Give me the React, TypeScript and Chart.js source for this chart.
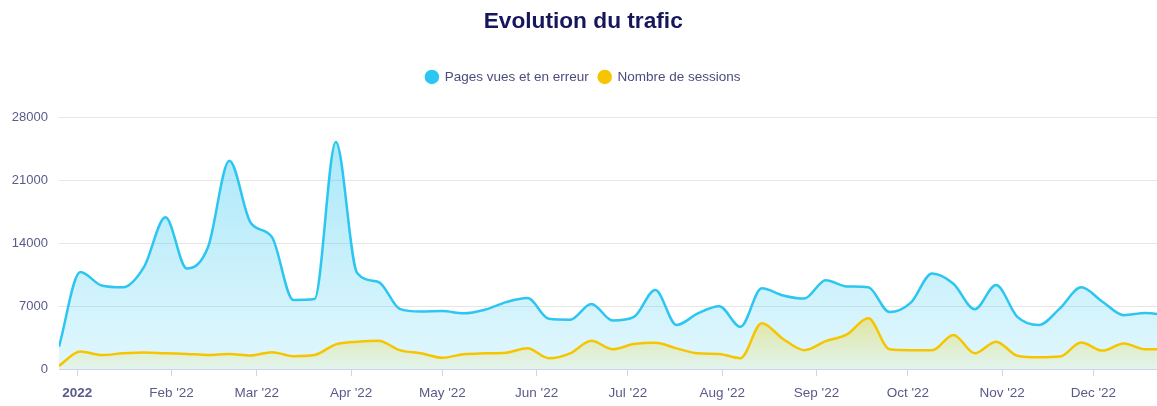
import React, { useEffect, useRef } from "react";
import { Chart, registerables } from "chart.js";

Chart.register(...registerables);

const weekStarts = [
  "2021-12-26", "2022-01-02", "2022-01-09", "2022-01-16", "2022-01-23", "2022-01-30",
  "2022-02-06", "2022-02-13", "2022-02-20", "2022-02-27", "2022-03-06", "2022-03-13",
  "2022-03-20", "2022-03-27", "2022-04-03", "2022-04-10", "2022-04-17", "2022-04-24",
  "2022-05-01", "2022-05-08", "2022-05-15", "2022-05-22", "2022-05-29", "2022-06-05",
  "2022-06-12", "2022-06-19", "2022-06-26", "2022-07-03", "2022-07-10", "2022-07-17",
  "2022-07-24", "2022-07-31", "2022-08-07", "2022-08-14", "2022-08-21", "2022-08-28",
  "2022-09-04", "2022-09-11", "2022-09-18", "2022-09-25", "2022-10-02", "2022-10-09",
  "2022-10-16", "2022-10-23", "2022-10-30", "2022-11-06", "2022-11-13", "2022-11-20",
  "2022-11-27", "2022-12-04", "2022-12-11", "2022-12-18", "2022-12-25",
];

const pagesVues = [
  2500, 10800, 9300, 9100, 11400, 16900,
  11200, 13600, 23200, 16300, 14700, 7700,
  7800, 25300, 10700, 9700, 6700, 6400,
  6450, 6200, 6600, 7450, 7900, 5600,
  5500, 7250, 5400, 5800, 8800, 4900,
  6200, 7000, 4700, 9000, 8200, 7850,
  9900, 9200, 9100, 6350, 7400, 10650,
  9500, 6650, 9350, 5800, 4900, 6750,
  9100, 7500, 6000, 6250, 6000,
];

const sessions = [
  350, 1950, 1550, 1750, 1850, 1750,
  1680, 1570, 1680, 1500, 1880, 1430,
  1560, 2750, 3050, 3150, 2100, 1750,
  1250, 1650, 1750, 1820, 2300, 1200,
  1750, 3150, 2200, 2780, 2930, 2300,
  1750, 1680, 1200, 5100, 3350, 2100,
  3100, 3850, 5650, 2200, 2100, 2100,
  3800, 1750, 3050, 1480, 1300, 1380,
  2950, 2050, 2850, 2200, 2200,
];

const monthTickDates = [
  "2022-01-01", "2022-02-01", "2022-03-01", "2022-04-01", "2022-05-01", "2022-06-01",
  "2022-07-01", "2022-08-01", "2022-09-01", "2022-10-01", "2022-11-01", "2022-12-01",
];
const monthTickLabels = [
  "2022", "Feb '22", "Mar '22", "Apr '22", "May '22", "Jun '22",
  "Jul '22", "Aug '22", "Sep '22", "Oct '22", "Nov '22", "Dec '22",
];
const yTickValues = [0, 7000, 14000, 21000, 28000];

const BLUE = "#2cc6f0";
const YELLOW = "#f7c500";
const FONT = "'Liberation Sans', Arial, Helvetica, sans-serif";
const TEXT = "#5a5a8a";

const dayOffset = (iso: string) => {
  const [y, m, d] = iso.split("-").map(Number);
  return (Date.UTC(y, m - 1, d) - Date.UTC(2022, 0, 1)) / 86400000;
};

const legendSpacing = {
  id: "legendSpacing",
  beforeInit(chart: any) {
    const legend = chart.legend;
    if (!legend) return;
    const orig = legend.fit;
    legend.fit = function () {
      orig.call(this);
      this.height += 24;
    };
  },
};

export default function App() {
  const ref = useRef<HTMLCanvasElement>(null);
  useEffect(() => {
    const xs = weekStarts.map(dayOffset);
    const monthVals = monthTickDates.map(dayOffset);
    const chart = new Chart(ref.current!, {
      type: "line",
      data: {
        datasets: [
          {
            label: "Pages vues et en erreur",
            data: xs.map((x, i) => ({ x, y: pagesVues[i] })),
            borderColor: BLUE,
            pointBackgroundColor: BLUE,
            pointBorderColor: BLUE,
            backgroundColor: (ctx: any) => {
              const area = ctx.chart.chartArea;
              if (!area) return "rgba(44,198,240,0.25)";
              const g = ctx.chart.ctx.createLinearGradient(0, area.top, 0, area.bottom);
              g.addColorStop(0, "rgba(44,198,240,0.42)");
              g.addColorStop(1, "rgba(44,198,240,0.14)");
              return g;
            },
            fill: "origin",
            cubicInterpolationMode: "monotone",
            borderWidth: 2.5,
            pointRadius: 0,
            order: 1,
          },
          {
            label: "Nombre de sessions",
            data: xs.map((x, i) => ({ x, y: sessions[i] })),
            borderColor: YELLOW,
            pointBackgroundColor: YELLOW,
            pointBorderColor: YELLOW,
            backgroundColor: (ctx: any) => {
              const chartRef = ctx.chart;
              const area = chartRef.chartArea;
              const ys = chartRef.scales && chartRef.scales.y;
              if (!area || !ys) return "rgba(240,200,0,0.2)";
              const g = chartRef.ctx.createLinearGradient(0, ys.getPixelForValue(6000), 0, area.bottom);
              g.addColorStop(0, "rgba(245,205,0,0.38)");
              g.addColorStop(1, "rgba(245,205,0,0.06)");
              return g;
            },
            fill: "origin",
            cubicInterpolationMode: "monotone",
            borderWidth: 2.5,
            pointRadius: 0,
            order: 0,
          },
        ],
      },
      options: {
        responsive: false,
        animation: false,
        events: [],
        layout: { padding: { top: 8, right: 3.6, bottom: 0, left: 0 } },
        plugins: {
          title: {
            display: true,
            text: "Evolution du trafic",
            color: "#16165c",
            font: { size: 22.7, weight: "bold", family: FONT },
            padding: { top: 0, bottom: 25 },
          },
          legend: {
            labels: {
              usePointStyle: true,
              pointStyle: "circle",
              boxWidth: 12,
              boxHeight: 8.5,
              color: "#4c4c7c",
              font: { size: 13.5, family: FONT },
              padding: 10,
              sort: (a: any, b: any) => a.datasetIndex - b.datasetIndex,
            },
          },
          tooltip: { enabled: false },
        },
        scales: {
          x: {
            type: "linear",
            min: -6,
            max: 358,
            afterBuildTicks: (s: any) => {
              s.ticks = monthVals.map((v) => ({ value: v }));
            },
            afterFit: (s: any) => {
              s.height = 37;
            },
            ticks: {
              autoSkip: false,
              maxRotation: 0,
              padding: 9,
              color: TEXT,
              font: (c: any) => ({
                size: 13.5,
                family: FONT,
                weight: c.tick && c.tick.value === 0 ? "bold" : "normal",
              }),
              callback: (v: any) => {
                const i = monthVals.indexOf(Number(v));
                return i >= 0 ? monthTickLabels[i] : "";
              },
            },
            grid: { drawOnChartArea: false, drawTicks: true, tickLength: 7, color: "#ccd6eb" },
            border: { display: true, color: "#ccd6eb" },
          },
          y: {
            min: 0,
            max: 28000,
            afterBuildTicks: (s: any) => {
              s.ticks = yTickValues.map((v) => ({ value: v }));
            },
            afterFit: (s: any) => {
              s.width = 59;
            },
            ticks: {
              padding: 11,
              color: TEXT,
              font: { size: 13, family: FONT },
              callback: (v: any) => String(v),
            },
            grid: { color: "#e6e6e6", drawTicks: false },
            border: { display: false },
          },
        },
      },
      plugins: [legendSpacing],
    } as any);
    return () => chart.destroy();
  }, []);
  return (
    <div
      style={{
        position: "fixed",
        left: 0,
        top: 0,
        width: 1157,
        height: 406,
        overflow: "hidden",
        background: "#fff",
      }}
    >
      <canvas ref={ref} width={1170} height={406} style={{ display: "block", width: 1170, height: 406 }} />
    </div>
  );
}
